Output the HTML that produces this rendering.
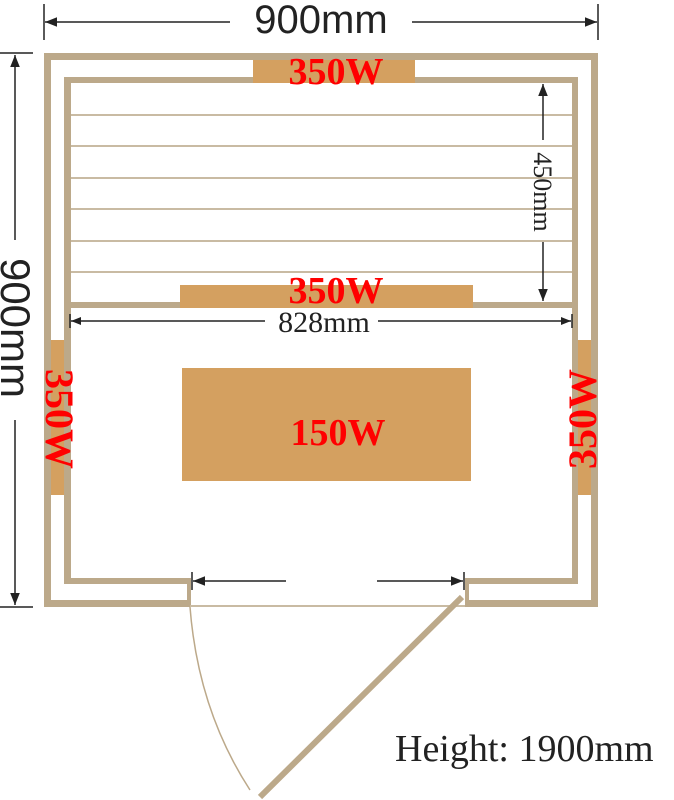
<!DOCTYPE html>
<html><head><meta charset="utf-8"><style>
html,body{margin:0;padding:0;background:#fff;width:674px;height:800px;overflow:hidden}
svg{display:block}
</style></head><body>
<svg width="674" height="800" viewBox="0 0 674 800" xmlns="http://www.w3.org/2000/svg">
<defs>
<marker id="a" viewBox="0 0 10 10" refX="10" refY="5" markerWidth="10" markerHeight="10" markerUnits="userSpaceOnUse" orient="auto-start-reverse"><path d="M0,1 L10,5 L0,9 Z" fill="#222"/></marker>
<marker id="b" viewBox="0 0 10 10" refX="10" refY="5" markerWidth="12" markerHeight="12" markerUnits="userSpaceOnUse" orient="auto-start-reverse"><path d="M0,1 L10,5 L0,9 Z" fill="#222"/></marker>
</defs>
<g fill="#bca98a">
<rect x="44" y="53" width="554" height="7"/>
<rect x="44" y="53" width="7" height="554"/>
<rect x="591" y="53" width="7" height="554"/>
<rect x="44" y="600" width="146" height="7"/>
<rect x="465" y="600" width="133" height="7"/>
<rect x="64" y="77" width="514" height="6"/>
<rect x="64" y="77" width="7" height="507"/>
<rect x="572" y="77" width="6" height="507"/>
<rect x="64" y="578" width="127" height="6"/>
<rect x="466" y="578" width="112" height="6"/>
<rect x="187" y="578" width="4" height="29"/>
<rect x="465" y="578" width="4" height="29"/>
<rect x="71" y="302" width="501" height="6"/>
</g>
<g stroke="#c9bba3" stroke-width="2">
<line x1="71" y1="115" x2="572" y2="115"/>
<line x1="71" y1="146" x2="572" y2="146"/>
<line x1="71" y1="178" x2="572" y2="178"/>
<line x1="71" y1="209" x2="572" y2="209"/>
<line x1="71" y1="241" x2="572" y2="241"/>
<line x1="71" y1="272" x2="572" y2="272"/>
</g>
<g fill="#d4a060">
<rect x="253" y="60" width="162" height="23"/>
<rect x="180" y="285" width="293" height="23"/>
<rect x="51" y="340" width="13" height="155"/>
<rect x="578" y="340" width="13" height="155"/>
<rect x="182" y="368" width="289" height="113"/>
</g>
<g font-family="Liberation Serif, serif" font-weight="bold" fill="#f00" font-size="38" text-anchor="middle">
<text x="336" y="84">350W</text>
<text x="336" y="303">350W</text>
<text x="338" y="445">150W</text>
<text transform="translate(46,419) rotate(90)" x="0" y="0" font-size="40">350W</text>
<text transform="translate(596,419) rotate(-90)" x="0" y="0" font-size="40">350W</text>
</g>
<line x1="190" y1="606" x2="465" y2="606" stroke="#c9bba3" stroke-width="2"/>
<line x1="462" y1="597" x2="260" y2="797" stroke="#bca98a" stroke-width="6"/>
<path d="M190,607 Q198,710 250,790" fill="none" stroke="#bca98a" stroke-width="1.5"/>
<g stroke="#222" stroke-width="1.5" fill="none">
<line x1="44" y1="4" x2="44" y2="40"/>
<line x1="598" y1="4" x2="598" y2="40"/>
<line x1="230" y1="22" x2="45" y2="22" marker-end="url(#b)"/>
<line x1="412" y1="22" x2="597" y2="22" marker-end="url(#b)"/>
<line x1="0" y1="53" x2="33" y2="53"/>
<line x1="0" y1="607" x2="33" y2="607"/>
<line x1="15" y1="240" x2="15" y2="55" marker-end="url(#b)"/>
<line x1="15" y1="420" x2="15" y2="605" marker-end="url(#b)"/>
<line x1="70" y1="314" x2="70" y2="328"/>
<line x1="572" y1="314" x2="572" y2="328"/>
<line x1="265" y1="321" x2="71" y2="321" marker-end="url(#a)"/>
<line x1="378" y1="321" x2="571" y2="321" marker-end="url(#a)"/>
<line x1="543" y1="140" x2="543" y2="84" marker-end="url(#b)"/>
<line x1="543" y1="242" x2="543" y2="301" marker-end="url(#b)"/>
<line x1="192" y1="572" x2="192" y2="590"/>
<line x1="464" y1="572" x2="464" y2="590"/>
<line x1="286" y1="581" x2="193" y2="581" marker-end="url(#b)"/>
<line x1="377" y1="581" x2="463" y2="581" marker-end="url(#b)"/>
</g>
<g fill="#222">
<text x="321" y="33" font-family="Liberation Sans, sans-serif" font-size="40" text-anchor="middle">900mm</text>
<text transform="translate(1,328) rotate(90)" font-family="Liberation Sans, sans-serif" font-size="42" text-anchor="middle">900mm</text>
<text x="324" y="332" font-family="Liberation Serif, serif" font-size="30" text-anchor="middle">828mm</text>
<text transform="translate(534,192) rotate(90)" font-family="Liberation Serif, serif" font-size="26" text-anchor="middle">450mm</text>
<text x="395" y="761" font-family="Liberation Serif, serif" font-size="38">Height: 1900mm</text>
</g>
</svg>
</body></html>
